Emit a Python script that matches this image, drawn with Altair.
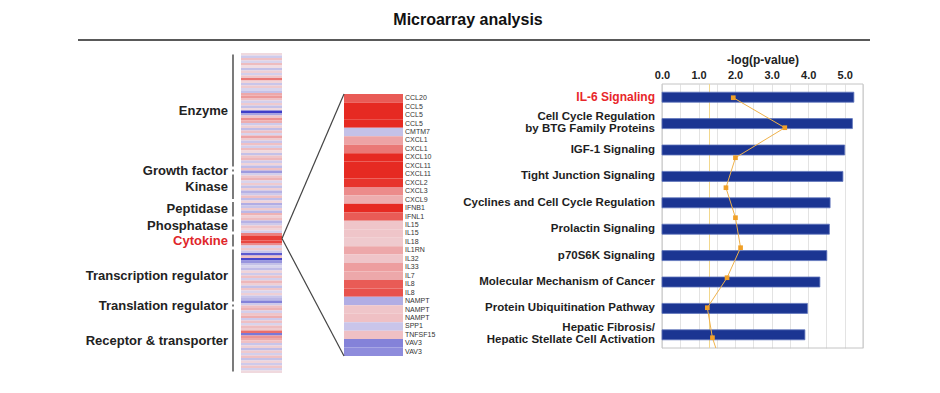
import altair as alt
import pandas as pd

# ---------------- data ----------------
# whole-array strip (log fold change per row block, top to bottom)
strip_values = [
    0.4, -0.7, 0.9, -0.5, 1.0, 0.3, -0.9, 0.6, -0.6, 0.8, 2.4, 0.5, -0.8, 0.7, -0.5, -0.9,
    1.4, 1.7, 0.9, -0.6, 0.7, -0.9, 0.4, -3.6, -1.5, 0.8, 1.9, 1.3, -0.7, 0.6, -1.0, 0.9,
    -0.5, 1.5, 0.7, -0.8, 0.9, -0.6, 1.0, 0.4, -0.9, 0.8, 1.1, -0.7, 0.5, -1.0, 0.9, -1.7,
    -0.6, 0.8, 1.2, -0.5, 0.7, -0.9, 0.6, -1.2, -0.7, 0.9, -1.0, 0.5, -1.3, -0.8, 0.7, -1.1,
    1.2, 0.6, 1.0, -1.2, -0.7, 0.8, 0.5, -0.6, 2.2, 3.6, 3.6, 3.4, 2.0, -0.5, 0.7, -0.8,
    -3.0, 0.9, -3.4, -1.8, -0.9, -0.5, -1.0, 0.5, -0.7, 0.9, -0.6, 1.1, 0.6, -0.9, 0.8, -0.5,
    0.6, -0.8, -1.1, -2.2, -0.7, 0.9, 1.2, -0.6, 0.8, 1.3, -0.7, 0.9, -0.5, 1.0, 0.7, 2.6,
    -2.4, 1.8, 1.4, 0.9, -0.8, 0.6, -1.0, 0.7, -0.6, 0.9, -0.9, 0.5, -0.7, 0.8, -0.6, 0.4,
]
categories = ["Enzyme", "Growth factor", "Kinase", "Peptidase", "Phosphatase",
              "Cytokine", "Transcription regulator", "Translation regulator",
              "Receptor & transporter"]
category_rows = [46, 2, 11, 7, 6, 6, 22, 2, 26]

genes = ["CCL20", "CCL5", "CCL5", "CCL5", "CMTM7", "CXCL1", "CXCL1", "CXCL10",
         "CXCL11", "CXCL11", "CXCL2", "CXCL3", "CXCL9", "IFNB1", "IFNL1", "IL15",
         "IL15", "IL18", "IL1RN", "IL32", "IL33", "IL7", "IL8", "IL8", "NAMPT",
         "NAMPT", "NAMPT", "SPP1", "TNFSF15", "VAV3", "VAV3"]
gene_values = [3.0, 4.0, 4.0, 4.0, -0.9, 1.5, 2.4, 4.0,
               4.0, 4.0, 3.8, 2.0, 1.3, 4.0, 3.0, 0.8,
               0.8, 0.7, 1.4, 0.8, 1.6, 1.4, 3.0, 3.2, -1.3,
               0.8, 0.9, -0.8, 0.9, -2.2, -2.0]

pathways = ["IL-6 Signaling",
            "Cell Cycle Regulation\nby BTG Family Proteins",
            "IGF-1 Signaling",
            "Tight Junction Signaling",
            "Cyclines and Cell Cycle Regulation",
            "Prolactin Signaling",
            "p70S6K Signaling",
            "Molecular Mechanism of Cancer",
            "Protein Ubiquitination Pathway",
            "Hepatic Fibrosis/\nHepatic Stellate Cell Activation"]
neg_log_p = [5.25, 5.21, 5.0, 4.95, 4.6, 4.58, 4.51, 4.32, 3.98, 3.91]
ratio_values = [1.95, 3.36, 2.01, 1.75, 2.01, 2.15, 1.78, 1.24, 1.38, 1.65]
threshold = 1.3
x_ticks = [0, 0.5, 1.0, 1.5, 2.0, 2.5, 3.0, 3.5, 4.0, 4.5, 5.0, 5.5]
x_domain = [0, 5.5]

# ---------------- layout (view pixels) ----------------
VIEW_W, VIEW_H = 920, 264
STRIP_X0, STRIP_X1 = 233, 274
STRIP_RANGE = [-31, 289]
BRACKET_X = 225
CAT_LABEL_X = 220
GENE_X0, GENE_X1 = 336, 395
GENE_RANGE = [10, 272]
GENE_LABEL_X = 397
BAR_LABEL_X = 647
X_RANGE = [654, 855]
FONT = "Liberation Sans"

n_strip = len(strip_values)
strip_df = pd.DataFrame({"r": list(range(n_strip)), "v": strip_values})
strip_df["r2"] = strip_df["r"] + 1

starts, s = [], 0
for c in category_rows:
    starts.append(s)
    s += c
cat_df = pd.DataFrame({"cat": categories, "start": starts,
                       "end": [a + b for a, b in zip(starts, category_rows)]})
cat_df["mid"] = (cat_df["start"] + cat_df["end"]) / 2
cat_df["b0"] = cat_df["start"] + 0.6
cat_df["b1"] = cat_df["end"] - 0.6

n_gene = len(genes)
gene_df = pd.DataFrame({"gene": genes, "v": gene_values, "i": list(range(n_gene))})
gene_df["i2"] = gene_df["i"] + 1
gene_df["mid"] = gene_df["i"] + 0.5

cyto_mid = float(cat_df.loc[cat_df["cat"] == "Cytokine", "mid"].iloc[0])
vertex_y = STRIP_RANGE[0] + cyto_mid / n_strip * (STRIP_RANGE[1] - STRIP_RANGE[0]) - 2
conn_df = pd.DataFrame({"g": [0, n_gene]})

bar_df = pd.DataFrame({"pathway": pathways, "value": neg_log_p})
bar_df["lines"] = bar_df["pathway"].str.count("\n") + 1
ratio_df = pd.DataFrame({"idx": list(range(len(ratio_values))), "ratio": ratio_values})
frame_df = pd.DataFrame({"x0": [x_domain[0]], "x1": [x_domain[1]], "th": [threshold]})
edges_df = pd.DataFrame({"xe": x_domain})
one = pd.DataFrame({"t": ["Microarray analysis"]})

# ---------------- scales ----------------
color_scale = alt.Scale(domain=[-4, 0, 4], range=["#2b2bc4", "#f1ecf3", "#e62a22"],
                        interpolate="rgb")
strip_scale = alt.Scale(domain=[0, n_strip], range=STRIP_RANGE, nice=False, zero=False)
gene_scale = alt.Scale(domain=[0, n_gene], range=GENE_RANGE, nice=False, zero=False)
x_scale = alt.Scale(domain=x_domain, range=X_RANGE, nice=False, zero=False)
band_scale = alt.Scale(domain=pathways, paddingInner=0, paddingOuter=0)
line_scale = alt.Scale(domain=[-0.457, 8.343], range=[0, VIEW_H], nice=False, zero=False)

x_axis = alt.Axis(orient="top", values=x_ticks,
                  labelExpr="datum.value % 1 === 0 ? format(datum.value, '.1f') : ''",
                  grid=True, gridColor="#dcdcdc", gridWidth=0.8, ticks=False, domain=False,
                  title="-log(p-value)", titleFont=FONT, titleFontSize=12,
                  titleFontWeight="bold", titleColor="#222", titlePadding=3,
                  labelFont=FONT, labelFontSize=11, labelFontWeight="bold",
                  labelColor="#222", labelPadding=4, labelFlush=False)

# ---------------- layers ----------------
strip = alt.Chart(strip_df).mark_rect().encode(
    x=alt.value(STRIP_X0), x2=alt.value(STRIP_X1),
    y=alt.Y("r:Q", scale=strip_scale, axis=None), y2="r2:Q",
    color=alt.Color("v:Q", scale=color_scale, legend=None))

brackets = alt.Chart(cat_df).mark_rule(color="#333", strokeWidth=1.3).encode(
    x=alt.value(BRACKET_X),
    y=alt.Y("b0:Q", scale=strip_scale, axis=None), y2="b1:Q")

cat_labels = alt.Chart(cat_df).mark_text(
    align="right", baseline="middle", font=FONT, fontSize=13, fontWeight="bold").encode(
    x=alt.value(CAT_LABEL_X),
    y=alt.Y("mid:Q", scale=strip_scale, axis=None),
    text="cat:N",
    color=alt.condition(alt.datum.cat == "Cytokine", alt.value("#e0262a"), alt.value("#222")))

gene_rects = alt.Chart(gene_df).mark_rect().encode(
    x=alt.value(GENE_X0), x2=alt.value(GENE_X1),
    y=alt.Y("i:Q", scale=gene_scale, axis=None), y2="i2:Q",
    color=alt.Color("v:Q", scale=color_scale, legend=None))

gene_labels = alt.Chart(gene_df).mark_text(
    align="left", baseline="middle", font=FONT, fontSize=7, color="#333").encode(
    x=alt.value(GENE_LABEL_X),
    y=alt.Y("mid:Q", scale=gene_scale, axis=None),
    text="gene:N")

connectors = alt.Chart(conn_df).mark_rule(color="#444", strokeWidth=1.2).encode(
    x=alt.value(GENE_X0), x2=alt.value(STRIP_X1),
    y=alt.Y("g:Q", scale=gene_scale, axis=None), y2=alt.value(vertex_y))

# frame of the bar panel: two vertical edges + top and bottom edges
frame_v = alt.Chart(edges_df).mark_rule(color="#c4c4c4", strokeWidth=1).encode(
    x=alt.X("xe:Q", scale=x_scale, axis=x_axis),
    y=alt.value(0), y2=alt.value(VIEW_H))
frame_top = alt.Chart(frame_df).mark_rule(color="#c4c4c4", strokeWidth=1).encode(
    x=alt.X("x0:Q", scale=x_scale, axis=x_axis), x2="x1:Q", y=alt.value(0))
frame_bot = alt.Chart(frame_df).mark_rule(color="#c4c4c4", strokeWidth=1).encode(
    x=alt.X("x0:Q", scale=x_scale, axis=x_axis), x2="x1:Q", y=alt.value(VIEW_H))

thresh = alt.Chart(frame_df).mark_rule(color="#f2d88e", strokeWidth=1).encode(
    x=alt.X("th:Q", scale=x_scale, axis=x_axis),
    y=alt.value(0), y2=alt.value(VIEW_H))

bars = alt.Chart(bar_df).mark_bar(size=10, color="#1b3592", stroke="#6075bb",
                                  strokeWidth=0.8).encode(
    x=alt.X("value:Q", scale=x_scale, axis=x_axis),
    y=alt.Y("pathway:N", scale=band_scale, axis=None))

label_color = alt.condition(alt.datum.pathway == "IL-6 Signaling",
                            alt.value("#e8262a"), alt.value("#1e1e1e"))
label_size = alt.condition(alt.datum.pathway == "IL-6 Signaling",
                           alt.value(12), alt.value(11.5))

bar_labels_1 = alt.Chart(bar_df).transform_filter(alt.datum.lines == 1).mark_text(
    align="right", baseline="middle", font=FONT, fontWeight="bold").encode(
    x=alt.value(BAR_LABEL_X),
    y=alt.Y("pathway:N", scale=band_scale, axis=None),
    text="pathway:N", color=label_color, size=label_size)

bar_labels_2 = alt.Chart(bar_df).transform_filter(alt.datum.lines == 2).mark_text(
    align="right", baseline="middle", font=FONT, fontWeight="bold",
    lineBreak="\n", lineHeight=12, dy=-7).encode(
    x=alt.value(BAR_LABEL_X),
    y=alt.Y("pathway:N", scale=band_scale, axis=None),
    text="pathway:N", color=label_color, size=label_size)

ratio_line = alt.Chart(ratio_df).mark_line(color="#f0b24a", strokeWidth=1, clip=True).encode(
    x=alt.X("ratio:Q", scale=x_scale, axis=x_axis),
    y=alt.Y("idx:Q", scale=line_scale, axis=None),
    order="idx:Q")

ratio_pts = alt.Chart(ratio_df).mark_point(shape="square", filled=True, size=22,
                                           color="#f0a028", opacity=1, clip=True).encode(
    x=alt.X("ratio:Q", scale=x_scale, axis=x_axis),
    y=alt.Y("idx:Q", scale=line_scale, axis=None))

title = alt.Chart(one).mark_text(font=FONT, fontSize=16, fontWeight="bold",
                                 color="#111", baseline="middle", align="center").encode(
    text="t:N", x=alt.value(460), y=alt.value(-64))

header_rule = alt.Chart(one).mark_rule(color="#222", strokeWidth=1.5).encode(
    x=alt.value(70), x2=alt.value(862), y=alt.value(-44))

chart = alt.layer(
    strip, brackets, cat_labels, gene_rects, gene_labels, connectors,
    frame_v, frame_top, frame_bot, thresh, bars, bar_labels_1, bar_labels_2,
    ratio_line, ratio_pts, title, header_rule
).resolve_scale(y="independent").properties(
    width=VIEW_W, height=VIEW_H,
    background="white",
    autosize=alt.AutoSizeParams(type="none"),
    padding={"left": 0, "top": 76, "right": 4, "bottom": 41},
).configure_view(stroke="transparent", strokeWidth=0)

chart.save("out.html", embed_options={"renderer": "svg", "actions": False})
